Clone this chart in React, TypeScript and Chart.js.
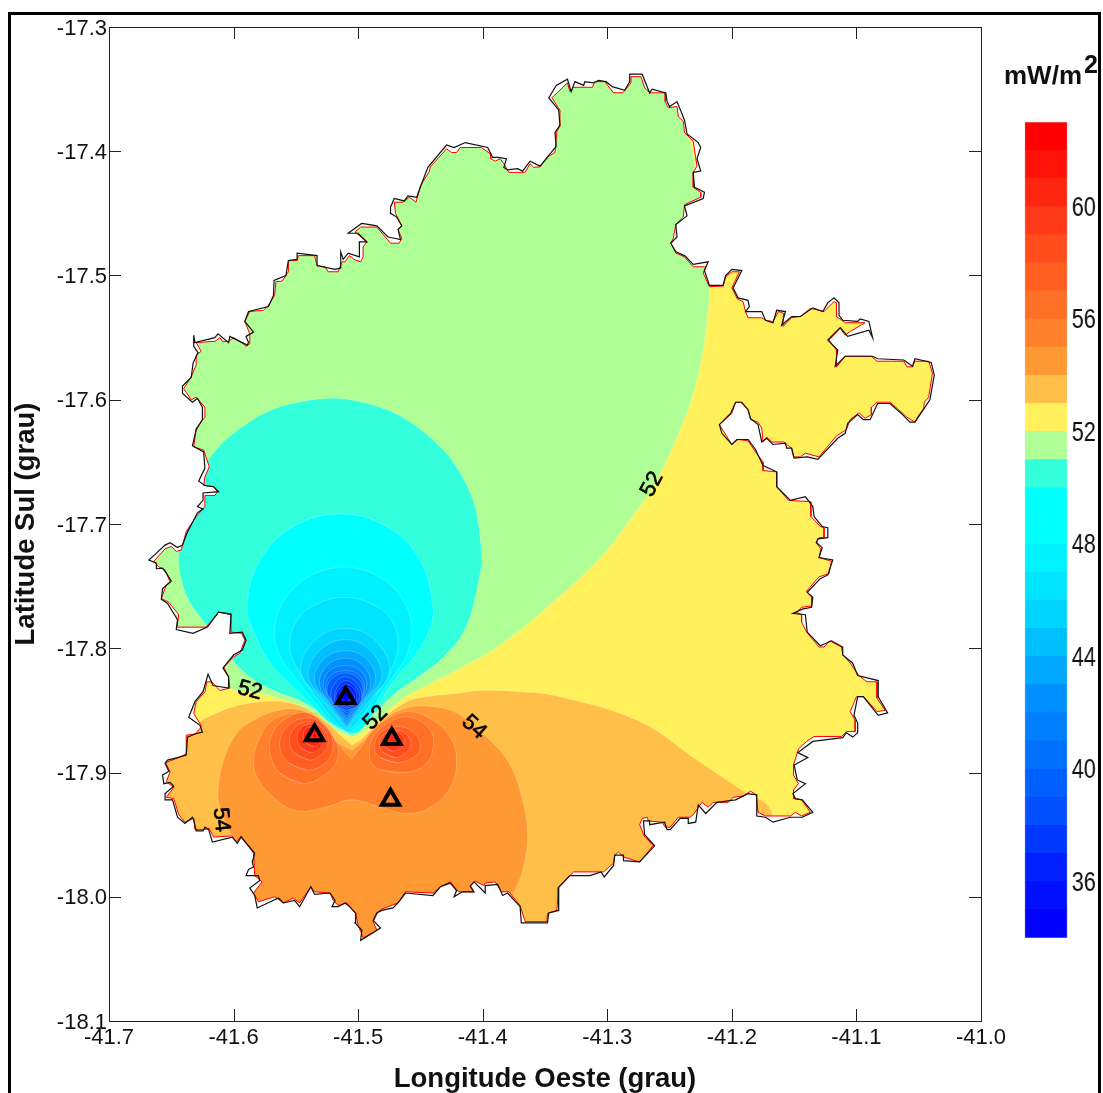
import React, { useEffect, useRef } from "react";
import { Chart, registerables } from "chart.js";

const FONT = "'Liberation Sans', Arial, sans-serif";

const lonTicksMin = -41.7, lonTicksMax = -41.0, latTicksMin = -18.1, latTicksMax = -17.3;
const barTicks = [36, 40, 44, 48, 52, 56, 60];
const bandLow = [34,35,36,37,38,39,40,41,42,43,44,45,46,47,48,49,50,51,52,53,54,55,56,57,58,59,60,61,62];
const bandColors = ["#0000FF","#0010FF","#0020FF","#0038FF","#0050FF","#0060FF","#0070FF","#0080FF","#008FFF","#00A8FF","#00BFFF","#00D5FF","#00E5FF","#00F2FF","#00FFFF","#00FFFF","#33FFDD","#B0FF96","#FFF05C","#FFBF48","#FF9933","#FF812C","#FF7027","#FF5E20","#FF4D1C","#FF3A18","#FF2610","#FF1208","#FF0000"];

const stationLon = [-41.510, -41.535, -41.473, -41.474];
const stationLat = [-17.840, -17.870, -17.873, -17.922];

const labelText = ["52", "52", "52", "54", "54"];
const labelLon = [-41.264, -41.587, -41.486, -41.407, -41.610];
const labelLat = [-17.668, -17.834, -17.856, -17.8635, -17.938];
const labelAngle = [-62, 15, -45, 42, 84];

// flat lon,lat lists
const municipalityLine = [-41.497,-17.458,-41.485,-17.460,-41.476,-17.469,-41.466,-17.471,-41.468,-17.463,-41.465,-17.460,-41.469,-17.453,-41.474,-17.450,-41.474,-17.445,-41.471,-17.438,-41.463,-17.440,-41.460,-17.436,-41.453,-17.437,-41.449,-17.426,-41.444,-17.413,-41.429,-17.395,-41.423,-17.397,-41.414,-17.393,-41.396,-17.397,-41.392,-17.405,-41.388,-17.405,-41.381,-17.406,-41.383,-17.413,-41.380,-17.415,-41.372,-17.414,-41.368,-17.416,-41.362,-17.408,-41.354,-17.412,-41.341,-17.396,-41.342,-17.385,-41.338,-17.379,-41.339,-17.367,-41.342,-17.363,-41.347,-17.357,-41.341,-17.347,-41.332,-17.342,-41.329,-17.352,-41.326,-17.344,-41.319,-17.347,-41.318,-17.344,-41.311,-17.345,-41.307,-17.343,-41.301,-17.344,-41.296,-17.348,-41.286,-17.351,-41.282,-17.344,-41.282,-17.338,-41.272,-17.338,-41.266,-17.353,-41.264,-17.350,-41.253,-17.353,-41.252,-17.360,-41.250,-17.364,-41.244,-17.360,-41.238,-17.375,-41.236,-17.386,-41.227,-17.393,-41.225,-17.397,-41.228,-17.406,-41.225,-17.416,-41.231,-17.417,-41.230,-17.429,-41.222,-17.433,-41.223,-17.438,-41.238,-17.444,-41.236,-17.452,-41.245,-17.459,-41.244,-17.469,-41.249,-17.474,-41.245,-17.481,-41.238,-17.484,-41.231,-17.491,-41.219,-17.489,-41.222,-17.496,-41.218,-17.508,-41.207,-17.508,-41.205,-17.500,-41.200,-17.495,-41.192,-17.496,-41.199,-17.510,-41.195,-17.518,-41.187,-17.520,-41.186,-17.525,-41.189,-17.529,-41.176,-17.529,-41.173,-17.536,-41.167,-17.538,-41.164,-17.528,-41.157,-17.529,-41.160,-17.540,-41.152,-17.533,-41.145,-17.533,-41.135,-17.526,-41.127,-17.529,-41.123,-17.522,-41.118,-17.518,-41.114,-17.522,-41.114,-17.532,-41.111,-17.536,-41.099,-17.537,-41.097,-17.535,-41.090,-17.537,-41.087,-17.550,-41.090,-17.544,-41.107,-17.549,-41.113,-17.542,-41.123,-17.552,-41.115,-17.560,-41.117,-17.573,-41.109,-17.565,-41.087,-17.565,-41.083,-17.567,-41.062,-17.568,-41.055,-17.573,-41.053,-17.567,-41.040,-17.570,-41.0375,-17.580,-41.041,-17.600,-41.053,-17.618,-41.057,-17.618,-41.063,-17.612,-41.073,-17.603,-41.083,-17.603,-41.089,-17.616,-41.0945,-17.616,-41.099,-17.612,-41.107,-17.619,-41.109,-17.627,-41.115,-17.631,-41.131,-17.648,-41.1395,-17.646,-41.150,-17.647,-41.152,-17.639,-41.156,-17.639,-41.157,-17.635,-41.167,-17.636,-41.172,-17.631,-41.176,-17.634,-41.179,-17.620,-41.185,-17.615,-41.187,-17.608,-41.192,-17.602,-41.197,-17.602,-41.201,-17.611,-41.210,-17.620,-41.208,-17.627,-41.200,-17.636,-41.196,-17.632,-41.187,-17.632,-41.181,-17.640,-41.175,-17.653,-41.164,-17.658,-41.164,-17.670,-41.153,-17.681,-41.141,-17.678,-41.135,-17.686,-41.134,-17.694,-41.1275,-17.702,-41.123,-17.703,-41.123,-17.711,-41.131,-17.712,-41.132,-17.715,-41.1275,-17.719,-41.130,-17.727,-41.119,-17.729,-41.123,-17.741,-41.129,-17.744,-41.1395,-17.755,-41.135,-17.759,-41.136,-17.767,-41.1435,-17.7685,-41.151,-17.772,-41.141,-17.773,-41.1395,-17.787,-41.129,-17.798,-41.120,-17.794,-41.111,-17.799,-41.111,-17.8055,-41.103,-17.812,-41.099,-17.822,-41.0825,-17.826,-41.0825,-17.839,-41.075,-17.852,-41.0825,-17.854,-41.0945,-17.839,-41.099,-17.839,-41.102,-17.854,-41.099,-17.860,-41.099,-17.868,-41.103,-17.8715,-41.108,-17.868,-41.111,-17.872,-41.135,-17.875,-41.147,-17.884,-41.139,-17.888,-41.150,-17.894,-41.1475,-17.906,-41.141,-17.909,-41.151,-17.917,-41.149,-17.921,-41.1435,-17.922,-41.135,-17.932,-41.1435,-17.936,-41.153,-17.936,-41.167,-17.940,-41.173,-17.936,-41.180,-17.935,-41.180,-17.918,-41.187,-17.917,-41.197,-17.922,-41.212,-17.924,-41.221,-17.933,-41.227,-17.926,-41.229,-17.940,-41.235,-17.941,-41.235,-17.937,-41.2415,-17.937,-41.2495,-17.946,-41.252,-17.946,-41.254,-17.940,-41.266,-17.942,-41.266,-17.939,-41.271,-17.939,-41.270,-17.950,-41.262,-17.959,-41.274,-17.972,-41.287,-17.971,-41.287,-17.9665,-41.294,-17.9665,-41.295,-17.975,-41.3025,-17.984,-41.305,-17.980,-41.314,-17.983,-41.330,-17.983,-41.3395,-17.993,-41.339,-18.011,-41.347,-18.013,-41.348,-18.021,-41.369,-18.021,-41.370,-18.008,-41.380,-17.997,-41.384,-17.999,-41.388,-17.990,-41.398,-17.991,-41.398,-17.997,-41.407,-17.988,-41.410,-17.9915,-41.407,-17.996,-41.4165,-17.996,-41.423,-18.000,-41.421,-17.995,-41.426,-17.989,-41.434,-17.992,-41.440,-17.999,-41.462,-17.997,-41.468,-18.005,-41.472,-18.009,-41.481,-18.011,-41.485,-18.013,-41.488,-18.019,-41.482,-18.025,-41.488,-18.029,-41.498,-18.035,-41.497,-18.027,-41.5025,-18.021,-41.502,-18.013,-41.508,-18.007,-41.5105,-18.005,-41.516,-18.008,-41.521,-18.008,-41.5185,-18.003,-41.5225,-17.997,-41.535,-17.998,-41.538,-17.992,-41.547,-18.008,-41.551,-18.003,-41.560,-18.005,-41.564,-18.001,-41.581,-18.009,-41.583,-17.999,-41.587,-17.993,-41.579,-17.987,-41.580,-17.983,-41.590,-17.983,-41.588,-17.978,-41.584,-17.976,-41.585,-17.972,-41.583,-17.965,-41.594,-17.952,-41.597,-17.957,-41.601,-17.952,-41.617,-17.956,-41.620,-17.946,-41.623,-17.944,-41.6245,-17.947,-41.630,-17.947,-41.632,-17.938,-41.633,-17.936,-41.639,-17.941,-41.645,-17.936,-41.649,-17.922,-41.655,-17.922,-41.655,-17.917,-41.648,-17.911,-41.651,-17.908,-41.656,-17.909,-41.657,-17.902,-41.652,-17.899,-41.655,-17.8925,-41.653,-17.890,-41.645,-17.888,-41.638,-17.886,-41.637,-17.8715,-41.631,-17.869,-41.625,-17.8675,-41.627,-17.862,-41.636,-17.8555,-41.631,-17.843,-41.6245,-17.835,-41.6205,-17.821,-41.6165,-17.830,-41.604,-17.832,-41.604,-17.823,-41.6085,-17.816,-41.600,-17.8055,-41.593,-17.8015,-41.590,-17.7935,-41.593,-17.787,-41.603,-17.788,-41.602,-17.7725,-41.612,-17.771,-41.621,-17.783,-41.6325,-17.788,-41.646,-17.785,-41.645,-17.777,-41.653,-17.764,-41.658,-17.7605,-41.657,-17.752,-41.650,-17.746,-41.654,-17.7395,-41.657,-17.7355,-41.6615,-17.736,-41.662,-17.7315,-41.668,-17.729,-41.6615,-17.723,-41.655,-17.717,-41.651,-17.715,-41.645,-17.719,-41.641,-17.717,-41.637,-17.7065,-41.631,-17.695,-41.629,-17.691,-41.6245,-17.688,-41.629,-17.686,-41.6245,-17.681,-41.6245,-17.675,-41.612,-17.674,-41.616,-17.670,-41.623,-17.669,-41.628,-17.6655,-41.623,-17.655,-41.624,-17.642,-41.633,-17.637,-41.630,-17.624,-41.625,-17.616,-41.625,-17.606,-41.629,-17.599,-41.633,-17.602,-41.641,-17.595,-41.641,-17.589,-41.634,-17.582,-41.6325,-17.5705,-41.6285,-17.562,-41.632,-17.557,-41.632,-17.548,-41.631,-17.554,-41.615,-17.550,-41.6125,-17.547,-41.604,-17.554,-41.603,-17.549,-41.589,-17.556,-41.588,-17.554,-41.590,-17.549,-41.584,-17.5455,-41.591,-17.537,-41.588,-17.529,-41.572,-17.525,-41.568,-17.516,-41.5675,-17.504,-41.558,-17.500,-41.556,-17.488,-41.549,-17.487,-41.549,-17.482,-41.533,-17.484,-41.533,-17.492,-41.5185,-17.495,-41.5145,-17.494,-41.514,-17.481,-41.512,-17.487,-41.508,-17.482,-41.499,-17.485,-41.499,-17.473,-41.493,-17.473,-41.500,-17.466,-41.508,-17.466];

const gridMaskLine = [-41.498,-17.461,-41.485,-17.461,-41.474,-17.474,-41.467,-17.474,-41.465,-17.470,-41.468,-17.463,-41.465,-17.460,-41.470,-17.450,-41.471,-17.441,-41.464,-17.441,-41.459,-17.437,-41.4535,-17.441,-41.450,-17.428,-41.448,-17.4245,-41.443,-17.4165,-41.442,-17.4125,-41.429,-17.398,-41.425,-17.401,-41.421,-17.401,-41.418,-17.397,-41.401,-17.397,-41.394,-17.402,-41.3935,-17.406,-41.390,-17.408,-41.386,-17.406,-41.383,-17.410,-41.379,-17.417,-41.366,-17.417,-41.362,-17.410,-41.359,-17.413,-41.354,-17.4125,-41.347,-17.404,-41.342,-17.401,-41.3405,-17.384,-41.338,-17.380,-41.338,-17.367,-41.3445,-17.357,-41.332,-17.345,-41.330,-17.352,-41.327,-17.3485,-41.312,-17.3485,-41.310,-17.344,-41.302,-17.344,-41.295,-17.353,-41.2875,-17.353,-41.281,-17.345,-41.281,-17.340,-41.273,-17.340,-41.270,-17.349,-41.266,-17.353,-41.2535,-17.353,-41.2535,-17.360,-41.251,-17.365,-41.244,-17.364,-41.243,-17.372,-41.239,-17.376,-41.238,-17.385,-41.231,-17.392,-41.228,-17.412,-41.231,-17.417,-41.231,-17.429,-41.225,-17.433,-41.225,-17.437,-41.238,-17.443,-41.239,-17.453,-41.245,-17.459,-41.247,-17.470,-41.249,-17.474,-41.245,-17.482,-41.238,-17.485,-41.231,-17.493,-41.221,-17.493,-41.223,-17.498,-41.218,-17.509,-41.207,-17.5085,-41.205,-17.501,-41.200,-17.497,-41.194,-17.497,-41.200,-17.510,-41.1955,-17.519,-41.191,-17.521,-41.189,-17.529,-41.187,-17.534,-41.176,-17.534,-41.173,-17.536,-41.167,-17.537,-41.1625,-17.529,-41.1585,-17.5305,-41.159,-17.541,-41.152,-17.534,-41.145,-17.533,-41.137,-17.5265,-41.126,-17.529,-41.118,-17.521,-41.116,-17.522,-41.116,-17.533,-41.109,-17.538,-41.093,-17.538,-41.105,-17.545,-41.109,-17.548,-41.113,-17.5425,-41.122,-17.552,-41.116,-17.560,-41.116,-17.5735,-41.109,-17.565,-41.088,-17.565,-41.0835,-17.569,-41.062,-17.569,-41.0595,-17.5735,-41.055,-17.5735,-41.053,-17.569,-41.042,-17.569,-41.039,-17.5785,-41.042,-17.598,-41.0455,-17.602,-41.046,-17.607,-41.051,-17.614,-41.053,-17.618,-41.0595,-17.614,-41.073,-17.602,-41.0835,-17.602,-41.088,-17.606,-41.088,-17.612,-41.093,-17.615,-41.098,-17.6105,-41.105,-17.616,-41.108,-17.624,-41.116,-17.629,-41.130,-17.646,-41.141,-17.643,-41.145,-17.646,-41.1505,-17.646,-41.152,-17.639,-41.1585,-17.634,-41.168,-17.634,-41.172,-17.630,-41.175,-17.634,-41.176,-17.623,-41.179,-17.618,-41.185,-17.616,-41.187,-17.608,-41.193,-17.602,-41.197,-17.602,-41.200,-17.611,-41.210,-17.620,-41.200,-17.636,-41.195,-17.632,-41.187,-17.633,-41.181,-17.642,-41.175,-17.650,-41.175,-17.657,-41.164,-17.658,-41.164,-17.670,-41.1545,-17.681,-41.137,-17.682,-41.1365,-17.694,-41.129,-17.702,-41.126,-17.703,-41.126,-17.711,-41.130,-17.711,-41.1325,-17.715,-41.1285,-17.720,-41.130,-17.727,-41.120,-17.730,-41.122,-17.740,-41.130,-17.7425,-41.140,-17.754,-41.136,-17.759,-41.136,-17.766,-41.144,-17.767,-41.148,-17.771,-41.144,-17.773,-41.144,-17.779,-41.140,-17.787,-41.130,-17.799,-41.126,-17.799,-41.1215,-17.794,-41.112,-17.799,-41.111,-17.805,-41.105,-17.812,-41.098,-17.822,-41.0915,-17.827,-41.0835,-17.827,-41.0835,-17.840,-41.077,-17.850,-41.0835,-17.851,-41.094,-17.839,-41.100,-17.839,-41.105,-17.851,-41.101,-17.858,-41.101,-17.867,-41.108,-17.867,-41.112,-17.871,-41.134,-17.871,-41.140,-17.875,-41.1465,-17.881,-41.1505,-17.894,-41.1505,-17.902,-41.1465,-17.909,-41.1505,-17.914,-41.1505,-17.921,-41.144,-17.922,-41.137,-17.932,-41.144,-17.935,-41.149,-17.932,-41.153,-17.935,-41.173,-17.935,-41.179,-17.932,-41.1805,-17.918,-41.185,-17.915,-41.191,-17.919,-41.199,-17.920,-41.203,-17.924,-41.215,-17.924,-41.219,-17.928,-41.224,-17.924,-41.231,-17.934,-41.2335,-17.936,-41.243,-17.936,-41.2495,-17.944,-41.2535,-17.944,-41.256,-17.940,-41.267,-17.939,-41.268,-17.936,-41.272,-17.937,-41.274,-17.942,-41.270,-17.952,-41.263,-17.9585,-41.274,-17.972,-41.287,-17.968,-41.291,-17.964,-41.294,-17.9665,-41.295,-17.973,-41.303,-17.980,-41.327,-17.980,-41.339,-17.992,-41.3405,-18.011,-41.348,-18.0135,-41.3485,-18.020,-41.366,-18.020,-41.370,-18.007,-41.379,-17.996,-41.385,-17.996,-41.390,-17.988,-41.398,-17.989,-41.399,-17.991,-41.406,-17.9875,-41.410,-17.991,-41.4075,-17.996,-41.4195,-17.996,-41.421,-17.994,-41.426,-17.988,-41.434,-17.992,-41.4395,-17.997,-41.462,-17.996,-41.468,-18.005,-41.481,-18.010,-41.484,-18.012,-41.488,-18.020,-41.485,-18.027,-41.496,-18.033,-41.500,-18.023,-41.502,-18.0135,-41.509,-18.005,-41.516,-18.007,-41.520,-18.003,-41.5225,-17.997,-41.535,-17.996,-41.538,-17.992,-41.547,-18.005,-41.552,-18.001,-41.560,-18.005,-41.567,-18.000,-41.580,-18.004,-41.584,-17.997,-41.577,-17.988,-41.583,-17.983,-41.584,-17.965,-41.594,-17.951,-41.5975,-17.956,-41.6015,-17.951,-41.616,-17.952,-41.6195,-17.945,-41.624,-17.946,-41.631,-17.946,-41.632,-17.937,-41.639,-17.940,-41.644,-17.934,-41.648,-17.921,-41.654,-17.920,-41.648,-17.912,-41.654,-17.9075,-41.651,-17.8995,-41.6545,-17.892,-41.644,-17.888,-41.638,-17.885,-41.638,-17.870,-41.631,-17.869,-41.6255,-17.863,-41.632,-17.8525,-41.630,-17.843,-41.623,-17.835,-41.6215,-17.827,-41.6175,-17.827,-41.611,-17.834,-41.603,-17.832,-41.604,-17.823,-41.608,-17.815,-41.600,-17.807,-41.595,-17.804,-41.591,-17.7935,-41.5935,-17.788,-41.602,-17.787,-41.602,-17.773,-41.612,-17.771,-41.622,-17.783,-41.6455,-17.783,-41.644,-17.773,-41.652,-17.763,-41.658,-17.760,-41.654,-17.749,-41.651,-17.7465,-41.655,-17.737,-41.660,-17.7345,-41.664,-17.730,-41.655,-17.720,-41.650,-17.718,-41.646,-17.722,-41.642,-17.721,-41.638,-17.706,-41.630,-17.694,-41.623,-17.686,-41.623,-17.677,-41.615,-17.677,-41.613,-17.674,-41.616,-17.670,-41.624,-17.669,-41.623,-17.662,-41.6195,-17.654,-41.624,-17.6405,-41.632,-17.638,-41.630,-17.623,-41.623,-17.614,-41.623,-17.606,-41.630,-17.598,-41.634,-17.600,-41.640,-17.591,-41.634,-17.5815,-41.630,-17.572,-41.630,-17.564,-41.626,-17.561,-41.630,-17.554,-41.615,-17.553,-41.611,-17.550,-41.609,-17.553,-41.604,-17.553,-41.600,-17.550,-41.5935,-17.554,-41.590,-17.557,-41.587,-17.555,-41.587,-17.547,-41.591,-17.537,-41.587,-17.529,-41.576,-17.528,-41.572,-17.524,-41.567,-17.516,-41.566,-17.505,-41.561,-17.5045,-41.556,-17.497,-41.556,-17.488,-41.549,-17.488,-41.548,-17.484,-41.535,-17.484,-41.533,-17.492,-41.5265,-17.493,-41.524,-17.497,-41.516,-17.497,-41.513,-17.489,-41.5105,-17.489,-41.507,-17.484,-41.5025,-17.4875,-41.498,-17.489,-41.496,-17.485,-41.496,-17.477,-41.493,-17.473,-41.5025,-17.465];

const contour52 = [-41.505,-17.8715,-41.496,-17.8675,-41.482,-17.8555,-41.466,-17.842,-41.445,-17.830,-41.418,-17.816,-41.386,-17.7975,-41.346,-17.765,-41.306,-17.7275,-41.282,-17.697,-41.262,-17.668,-41.2415,-17.624,-41.231,-17.595,-41.223,-17.560,-41.219,-17.528,-41.218,-17.509,-41.219,-17.488,-41.223,-17.451,-41.229,-17.415,-41.2335,-17.393,-41.2415,-17.367,-41.266,-17.310,-41.683,-17.310,-41.691,-17.793,-41.635,-17.802,-41.609,-17.819,-41.603,-17.832,-41.587,-17.835,-41.568,-17.839,-41.547,-17.846,-41.528,-17.858,-41.5145,-17.868];
const contour51 = [-41.505,-17.870,-41.489,-17.854,-41.470,-17.836,-41.450,-17.822,-41.430,-17.8055,-41.414,-17.784,-41.404,-17.749,-41.401,-17.721,-41.4125,-17.6695,-41.445,-17.628,-41.491,-17.6035,-41.543,-17.601,-41.592,-17.621,-41.628,-17.661,-41.643,-17.711,-41.640,-17.752,-41.621,-17.783,-41.603,-17.807,-41.587,-17.823,-41.568,-17.834,-41.547,-17.842,-41.525,-17.8555,-41.512,-17.866];
const contour50 = [-41.5065,-17.869,-41.498,-17.866,-41.482,-17.842,-41.469,-17.823,-41.453,-17.804,-41.442,-17.783,-41.440,-17.767,-41.450,-17.7295,-41.477,-17.702,-41.5145,-17.692,-41.552,-17.702,-41.579,-17.7295,-41.589,-17.767,-41.581,-17.793,-41.568,-17.815,-41.549,-17.834,-41.536,-17.847,-41.5225,-17.860];
const contour48 = [-41.5065,-17.868,-41.493,-17.8555,-41.482,-17.838,-41.472,-17.823,-41.461,-17.8055,-41.457,-17.785,-41.464,-17.761,-41.484,-17.742,-41.511,-17.735,-41.539,-17.742,-41.559,-17.761,-41.567,-17.785,-41.563,-17.8055,-41.549,-17.826,-41.536,-17.842,-41.5225,-17.858,-41.510,-17.867];
const contour47 = [-41.509,-17.867,-41.500,-17.859,-41.486,-17.838,-41.474,-17.818,-41.468,-17.7975,-41.474,-17.776,-41.490,-17.764,-41.511,-17.759,-41.532,-17.764,-41.548,-17.776,-41.555,-17.7975,-41.548,-17.818,-41.532,-17.842,-41.5185,-17.859];
const contour46 = [-41.509,-17.865,-41.491,-17.842,-41.475,-17.819,-41.486,-17.794,-41.510,-17.784,-41.535,-17.794,-41.546,-17.819,-41.528,-17.842];
const contour45 = [-41.509,-17.864,-41.494,-17.842,-41.481,-17.823,-41.490,-17.802,-41.510,-17.793,-41.531,-17.802,-41.540,-17.823,-41.526,-17.842];
const contour44 = [-41.509,-17.862,-41.496,-17.843,-41.486,-17.826,-41.493,-17.809,-41.510,-17.802,-41.528,-17.809,-41.535,-17.826,-41.524,-17.843];
const contour43 = [-41.509,-17.859,-41.498,-17.844,-41.490,-17.829,-41.496,-17.814,-41.510,-17.808,-41.525,-17.814,-41.531,-17.829,-41.522,-17.844];
const contour42 = [-41.509,-17.857,-41.500,-17.844,-41.493,-17.831,-41.498,-17.818,-41.510,-17.814,-41.523,-17.818,-41.528,-17.831,-41.520,-17.844];
const contour41 = [-41.509,-17.855,-41.501,-17.844,-41.495,-17.833,-41.499,-17.822,-41.510,-17.818,-41.522,-17.822,-41.526,-17.833,-41.519,-17.844];
const contour40 = [-41.509,-17.852,-41.502,-17.844,-41.496,-17.835,-41.500,-17.824,-41.510,-17.820,-41.521,-17.824,-41.525,-17.835,-41.5185,-17.844];
const contour39 = [-41.509,-17.850,-41.500,-17.846,-41.497,-17.838,-41.501,-17.828,-41.510,-17.823,-41.5185,-17.828,-41.522,-17.838,-41.518,-17.846];
const contour38 = [-41.509,-17.848,-41.502,-17.845,-41.499,-17.839,-41.5025,-17.8305,-41.510,-17.826,-41.516,-17.8305,-41.519,-17.839,-41.517,-17.845];
const contour37 = [-41.509,-17.847,-41.503,-17.844,-41.501,-17.839,-41.504,-17.832,-41.510,-17.829,-41.5145,-17.832,-41.518,-17.839,-41.515,-17.844];
const contour36 = [-41.509,-17.845,-41.505,-17.843,-41.503,-17.839,-41.506,-17.834,-41.510,-17.831,-41.513,-17.834,-41.515,-17.839,-41.514,-17.843];
const contour35 = [-41.509,-17.843,-41.505,-17.839,-41.509,-17.834,-41.514,-17.839];
const contour53 = [-41.505,-17.878,-41.496,-17.872,-41.482,-17.858,-41.461,-17.843,-41.445,-17.839,-41.418,-17.836,-41.402,-17.834,-41.370,-17.835,-41.338,-17.839,-41.274,-17.859,-41.228,-17.890,-41.188,-17.917,-41.169,-17.930,-41.121,-18.083,-41.691,-18.083,-41.691,-17.890,-41.6325,-17.862,-41.621,-17.8555,-41.600,-17.847,-41.576,-17.843,-41.555,-17.844,-41.539,-17.850,-41.525,-17.860,-41.512,-17.872];
const contour54 = [-41.505,-17.882,-41.497,-17.8755,-41.480,-17.858,-41.461,-17.848,-41.440,-17.847,-41.421,-17.852,-41.406,-17.864,-41.3925,-17.8755,-41.378,-17.894,-41.368,-17.922,-41.364,-17.950,-41.368,-17.979,-41.376,-18.000,-41.382,-18.023,-41.386,-18.083,-41.595,-18.083,-41.596,-17.9625,-41.604,-17.946,-41.611,-17.928,-41.6125,-17.914,-41.608,-17.890,-41.597,-17.868,-41.584,-17.858,-41.568,-17.851,-41.549,-17.849,-41.536,-17.855,-41.525,-17.866,-41.517,-17.8755];
const contour55 = [-41.505,-17.889,-41.498,-17.880,-41.488,-17.866,-41.474,-17.8555,-41.458,-17.851,-41.440,-17.858,-41.426,-17.8715,-41.421,-17.890,-41.426,-17.912,-41.442,-17.928,-41.461,-17.933,-41.482,-17.928,-41.505,-17.922,-41.5265,-17.928,-41.549,-17.931,-41.568,-17.920,-41.581,-17.904,-41.584,-17.890,-41.580,-17.874,-41.571,-17.860,-41.560,-17.854,-41.547,-17.853,-41.532,-17.861,-41.520,-17.872,-41.512,-17.882];
const contour56West = [-41.544,-17.909,-41.563,-17.9005,-41.571,-17.882,-41.5675,-17.866,-41.555,-17.855,-41.541,-17.852,-41.5265,-17.862,-41.518,-17.8755,-41.516,-17.886,-41.522,-17.898];
const contour56East = [-41.461,-17.900,-41.482,-17.898,-41.489,-17.8925,-41.491,-17.886,-41.488,-17.8715,-41.474,-17.859,-41.458,-17.8555,-41.442,-17.866,-41.440,-17.880,-41.445,-17.8925];
const contour57West = [-41.541,-17.898,-41.556,-17.892,-41.563,-17.878,-41.557,-17.863,-41.541,-17.856,-41.5265,-17.863,-41.520,-17.878,-41.526,-17.892];
const contour57East = [-41.469,-17.892,-41.482,-17.888,-41.487,-17.880,-41.482,-17.868,-41.469,-17.863,-41.455,-17.868,-41.450,-17.880,-41.456,-17.888];
const contour58West = [-41.539,-17.890,-41.550,-17.885,-41.555,-17.875,-41.551,-17.864,-41.539,-17.859,-41.529,-17.864,-41.524,-17.875,-41.529,-17.885];
const contour58East = [-41.470,-17.888,-41.480,-17.884,-41.483,-17.877,-41.479,-17.869,-41.470,-17.866,-41.4615,-17.869,-41.4575,-17.877,-41.4615,-17.884];
const contour59West = [-41.538,-17.884,-41.546,-17.880,-41.549,-17.872,-41.546,-17.864,-41.538,-17.861,-41.530,-17.864,-41.5265,-17.872,-41.530,-17.880];
const contour59East = [-41.472,-17.883,-41.478,-17.880,-41.481,-17.875,-41.478,-17.869,-41.472,-17.867,-41.4655,-17.869,-41.463,-17.875,-41.4655,-17.880];
const contour60West = [-41.536,-17.879,-41.542,-17.876,-41.544,-17.871,-41.542,-17.865,-41.536,-17.863,-41.531,-17.865,-41.528,-17.871,-41.531,-17.876];
const contour60East = [-41.473,-17.878,-41.477,-17.876,-41.478,-17.873,-41.476,-17.869,-41.473,-17.868,-41.469,-17.870,-41.467,-17.873,-41.469,-17.876];
const contour61 = [-41.535,-17.875,-41.540,-17.870,-41.535,-17.865,-41.531,-17.870];
const contour62 = [-41.535,-17.873,-41.537,-17.871,-41.535,-17.868,-41.533,-17.871];

const layerCurves = [contour52,contour51,contour50,contour48,contour47,contour46,contour45,contour44,contour43,contour42,contour41,contour40,contour39,contour38,contour37,contour36,contour35,contour53,contour54,contour55,contour56West,contour56East,contour57West,contour57East,contour58West,contour58East,contour59West,contour59East,contour60West,contour60East,contour61,contour62];
const layerBands = [51,50,49,47,46,45,44,43,42,41,40,39,38,37,36,35,34,53,54,55,56,56,57,57,58,58,59,59,60,60,61,62];
const roundCurves = [contour35,contour56West,contour56East,contour57West,contour57East,contour58West,contour58East,contour59West,contour59East,contour60West,contour60East,contour61,contour62];
const baseBand = 52;

const toPoints = (flat: number[], closed = false, wrap = false) => {
  const out: { x: number; y: number }[] = [];
  for (let i = 0; i < flat.length; i += 2) out.push({ x: flat[i], y: flat[i + 1] });
  if (closed) out.push({ ...out[0] });
  if (wrap) out.push({ ...out[1] });
  return out;
};
const colorOf = (band: number) => bandColors[bandLow.indexOf(band)];

const regionClip = {
  id: "regionClip",
  beforeDatasetDraw(chart: any, args: any) {
    if (!chart.data.datasets[args.index].clipToRegion) return;
    const { x, y } = chart.scales;
    const { ctx } = chart;
    ctx.save();
    ctx.beginPath();
    for (let i = 0; i < gridMaskLine.length; i += 2) {
      const px = x.getPixelForValue(gridMaskLine[i]);
      const py = y.getPixelForValue(gridMaskLine[i + 1]);
      if (i === 0) ctx.moveTo(px, py); else ctx.lineTo(px, py);
    }
    ctx.closePath();
    ctx.clip();
  },
  afterDatasetDraw(chart: any, args: any) {
    if (chart.data.datasets[args.index].clipToRegion) chart.ctx.restore();
  },
};
Chart.register(regionClip);
Chart.register(...registerables);

const frameTicks = {
  id: "frameTicks",
  afterDraw(chart: any) {
    const { ctx, chartArea: a, scales } = chart;
    ctx.save();
    ctx.strokeStyle = "#222";
    ctx.lineWidth = 1;
    ctx.strokeRect(a.left + 0.5, a.top + 0.5, a.right - a.left, a.bottom - a.top);
    ctx.beginPath();
    scales.x.ticks.forEach((t: any) => {
      const p = Math.round(scales.x.getPixelForValue(t.value)) + 0.5;
      ctx.moveTo(p, a.bottom); ctx.lineTo(p, a.bottom - 12);
      ctx.moveTo(p, a.top); ctx.lineTo(p, a.top + 12);
    });
    scales.y.ticks.forEach((t: any) => {
      const p = Math.round(scales.y.getPixelForValue(t.value)) + 0.5;
      ctx.moveTo(a.left, p); ctx.lineTo(a.left + 12, p);
      ctx.moveTo(a.right, p); ctx.lineTo(a.right - 12, p);
    });
    ctx.stroke();
    ctx.restore();
  },
};

const contourLabels = {
  id: "contourLabels",
  afterDatasetsDraw(chart: any) {
    const { ctx, scales } = chart;
    ctx.save();
    ctx.font = `22px ${FONT}`;
    ctx.textAlign = "center";
    ctx.textBaseline = "middle";
    ctx.fillStyle = "#000";
    ctx.strokeStyle = "#000";
    ctx.lineWidth = 0.6;
    labelText.forEach((t, i) => {
      ctx.save();
      ctx.translate(scales.x.getPixelForValue(labelLon[i]), scales.y.getPixelForValue(labelLat[i]));
      ctx.rotate((labelAngle[i] * Math.PI) / 180);
      ctx.fillText(t, 0, 0);
      ctx.strokeText(t, 0, 0);
      ctx.restore();
    });
    ctx.restore();
  },
};

export default function App() {
  const mapRef = useRef<HTMLCanvasElement>(null);
  const barRef = useRef<HTMLCanvasElement>(null);

  useEffect(() => {
    const line = (flat: number[], extra: any) => ({
      data: toPoints(flat, true, roundCurves.includes(flat)),
      showLine: true,
      pointRadius: 0,
      borderWidth: 0,
      ...extra,
    });
    const list: any[] = [
      line(gridMaskLine, { fill: "shape", backgroundColor: colorOf(baseBand), borderColor: colorOf(baseBand) }),
      ...layerCurves.map((c, i) =>
        line(c, {
          clipToRegion: true,
          tension: 0.4,
          fill: "shape",
          backgroundColor: colorOf(layerBands[i]),
          borderColor: "rgba(255,255,255,0.22)",
          borderWidth: 1,
        })
      ),
      line(gridMaskLine, { borderColor: "#FF0000", borderWidth: 1, fill: false }),
      line(municipalityLine, { borderColor: "#111", borderWidth: 1.2, fill: false }),
      {
        data: stationLon.map((x, i) => ({ x, y: stationLat[i] })),
        showLine: false,
        pointStyle: "triangle",
        pointRadius: 10,
        borderWidth: 4,
        borderColor: "#000",
        backgroundColor: "rgba(0,0,0,0)",
      },
    ];
    list.forEach((d, i) => (d.order = list.length - i));

    const map = new Chart(mapRef.current as HTMLCanvasElement, {
      type: "scatter",
      data: { datasets: list },
      plugins: [frameTicks, contourLabels],
      options: {
        animation: false,
        responsive: false,
        events: [],
        layout: { padding: { top: 27, right: 122, left: 0, bottom: 0 } },
        plugins: { legend: { display: false }, tooltip: { enabled: false } },
        scales: {
          x: {
            type: "linear",
            min: lonTicksMin,
            max: lonTicksMax,
            afterFit: (s: any) => { s.height = 72; },
            grid: { display: false, drawTicks: false },
            border: { display: false },
            ticks: { stepSize: 0.1, autoSkip: false, maxRotation: 0, padding: 4, color: "#111", font: { family: FONT, size: 22 }, callback: (v: any) => Number(v).toFixed(1) },
            title: { display: true, text: "Longitude Oeste (grau)", color: "#111", padding: 0, font: { family: FONT, size: 27.5, weight: "bold", lineHeight: 1 } },
          },
          y: {
            type: "linear",
            min: latTicksMin,
            max: latTicksMax,
            afterFit: (s: any) => { s.width = 109; },
            grid: { display: false, drawTicks: false },
            border: { display: false },
            ticks: { stepSize: 0.1, autoSkip: false, padding: 2, labelOffset: 1.5, color: "#111", font: { family: FONT, size: 22 }, callback: (v: any) => Number(v).toFixed(1) },
            title: { display: true, text: "Latitude Sul (grau)", color: "#111", padding: { top: 13, bottom: 0 }, font: { family: FONT, size: 27.5, weight: "bold", lineHeight: 1 } },
          },
        },
      } as any,
    });

    const bar = new Chart(barRef.current as HTMLCanvasElement, {
      type: "bar",
      data: {
        labels: [""],
        datasets: bandLow.map((lo, i) => ({
          data: [[lo, lo + 1]] as any,
          backgroundColor: bandColors[i],
          borderWidth: 0,
          barPercentage: 1,
          categoryPercentage: 1,
          grouped: false,
        })),
      },
      options: {
        animation: false,
        responsive: false,
        events: [],
        layout: { autoPadding: false, padding: { left: 43.75, top: 21, bottom: 19, right: 0 } },
        plugins: { legend: { display: false }, tooltip: { enabled: false } },
        scales: {
          x: { display: false, stacked: false },
          y: {
            position: "right",
            min: 34,
            max: 63,
            afterFit: (s: any) => { s.width = 44.75; },
            afterBuildTicks: (s: any) => { s.ticks = barTicks.map((value) => ({ value })); },
            grid: { display: false, drawTicks: false },
            border: { display: false },
            ticks: { padding: 6, labelOffset: 1.5, autoSkip: false, color: "#111", font: { family: FONT, size: 27 } },
          },
        },
      } as any,
    });

    return () => {
      map.destroy();
      bar.destroy();
    };
  }, []);

  return (
    <div style={{ position: "absolute", left: 0, top: 0, width: 1103, height: 1093, overflow: "hidden", background: "#fff" }}>
      <canvas ref={mapRef} width={1103} height={1093} style={{ position: "absolute", left: 0, top: 0, width: 1103, height: 1093 }} />
      <canvas ref={barRef} width={141} height={860} style={{ position: "absolute", left: 990, top: 100, width: 141, height: 860, transform: "scaleX(0.8)", transformOrigin: "left top" }} />
      <div style={{ position: "absolute", left: 8, top: 12, width: 1093, height: 1090, boxSizing: "border-box", borderTop: "3px solid #000", borderLeft: "3px solid #000", borderRight: "3px solid #000", pointerEvents: "none" }} />
      <span style={{ position: "absolute", left: 1004, top: 60, font: `bold 26px ${FONT}`, color: "#111", lineHeight: "30px" }}>mW/m</span>
      <span style={{ position: "absolute", left: 1084, top: 50, font: `bold 25px ${FONT}`, color: "#111", lineHeight: "28px" }}>2</span>
    </div>
  );
}
